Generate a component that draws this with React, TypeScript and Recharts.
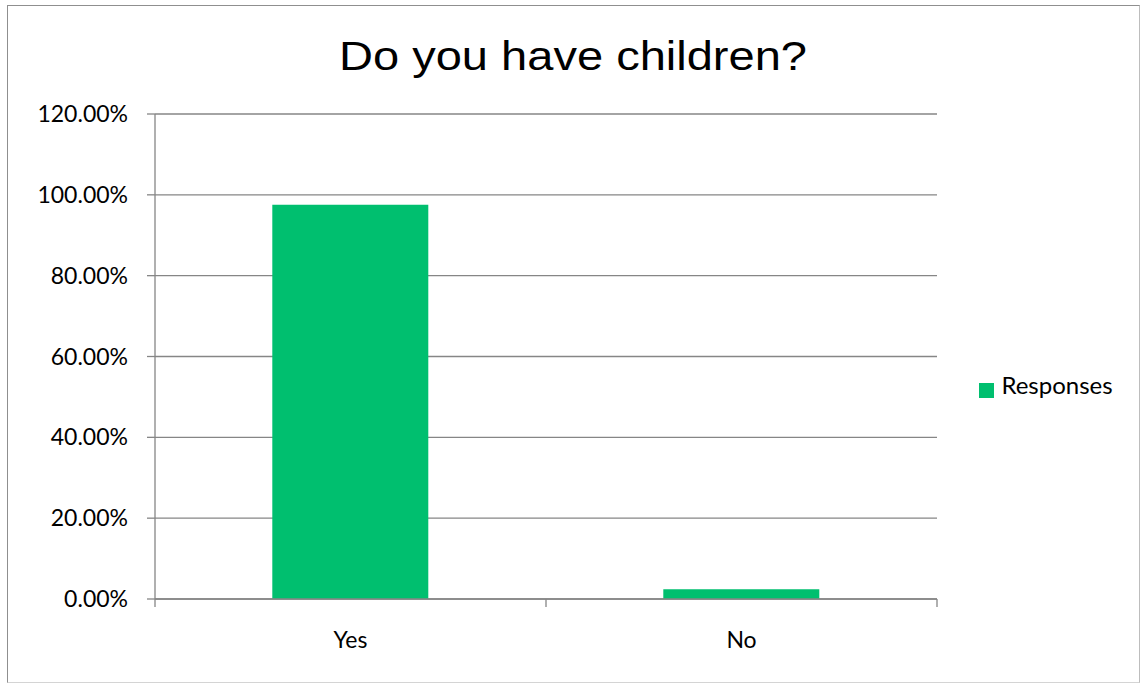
import React from "react";
import { BarChart, Bar, XAxis, YAxis, CartesianGrid, Legend } from "recharts";

const categories = ["Yes", "No"];
const responses = [0.9756, 0.0244];
const yTicks = [0, 0.2, 0.4, 0.6, 0.8, 1.0, 1.2];
const title = "Do you have children?";
const seriesName = "Responses";

const data = categories.map((c, i) => ({ answer: c, value: responses[i] }));

const GRID = "#868686";
const GREEN = "#00bf6f";
const FONT = "Lato, 'Open Sans', sans-serif";
const X_TICK_MARGIN = 33;
const X_TICK_LEN = 8;

function CategoryTick(props: any) {
  const { x, y, payload, index, visibleTicksCount } = props;
  const half = payload && typeof payload.offset === "number" ? payload.offset : 0;
  const axisY = y - X_TICK_MARGIN;
  const isLast = visibleTicksCount != null ? index === visibleTicksCount - 1 : index === categories.length - 1;
  return (
    <g>
      <line x1={x - half} x2={x - half} y1={axisY} y2={axisY + X_TICK_LEN} stroke={GRID} strokeWidth={1.3} />
      {isLast && (
        <line x1={x + half} x2={x + half} y1={axisY} y2={axisY + X_TICK_LEN} stroke={GRID} strokeWidth={1.3} />
      )}
      <text x={x} y={y} dy="0.71em" textAnchor="middle" fill="#000" fontSize={23} fontFamily={FONT}>
        {payload.value}
      </text>
    </g>
  );
}

export default function App() {
  return (
    <div style={{ position: "absolute", left: 0, top: 0, width: 1142, height: 685, background: "#fff" }}>
      <div
        style={{
          position: "absolute",
          left: 7,
          top: 5,
          width: 1133,
          height: 678,
          borderLeft: "1px solid #8f8f8f",
          borderTop: "1px solid #8f8f8f",
          borderRight: "1px solid #bdbdbd",
          borderBottom: "1px solid #d4d4d4",
          boxSizing: "border-box",
        }}
      />
      <svg style={{ position: "absolute", left: 0, top: 0 }} width={1142} height={100}>
        <text
          x={573}
          y={70}
          textAnchor="middle"
          fontFamily="'Liberation Sans', Arial, sans-serif"
          fontSize={40}
          fill="#000"
          textLength={468}
          lengthAdjust="spacingAndGlyphs"
        >
          {title}
        </text>
      </svg>
      <div style={{ position: "absolute", left: 0, top: 0 }}>
        <BarChart
          width={1142}
          height={685}
          data={data}
          margin={{ top: 114, right: 205, left: 0, bottom: 0 }}
          barCategoryGap="30%"
        >
          <CartesianGrid vertical={false} stroke={GRID} strokeWidth={1.3} />
          <XAxis
            dataKey="answer"
            tickLine={false}
            axisLine={{ stroke: GRID, strokeWidth: 1.3 }}
            tickSize={0}
            tickMargin={X_TICK_MARGIN}
            height={86}
            interval={0}
            tick={<CategoryTick />}
          />
          <YAxis
            width={155}
            domain={[0, 1.2]}
            ticks={yTicks}
            tickFormatter={(v: number) => (v * 100).toFixed(2) + "%"}
            axisLine={{ stroke: GRID, strokeWidth: 1.3 }}
            tickLine={{ stroke: GRID, strokeWidth: 1.3 }}
            tickSize={8}
            tickMargin={19}
            tick={{ fill: "#000", fontSize: 23, fontFamily: FONT }}
            interval={0}
          />
          <Legend
            layout="horizontal"
            align="center"
            verticalAlign="middle"
            iconType="square"
            iconSize={15}
            wrapperStyle={{ left: 966, top: 370, width: 170, height: 30, textAlign: "left" }}
            formatter={(v: string) => (
              <span style={{ color: "#000", fontSize: 24, fontFamily: FONT, marginLeft: 3 }}>{v}</span>
            )}
          />
          <Bar dataKey="value" name={seriesName} fill={GREEN} isAnimationActive={false} />
        </BarChart>
      </div>
    </div>
  );
}
